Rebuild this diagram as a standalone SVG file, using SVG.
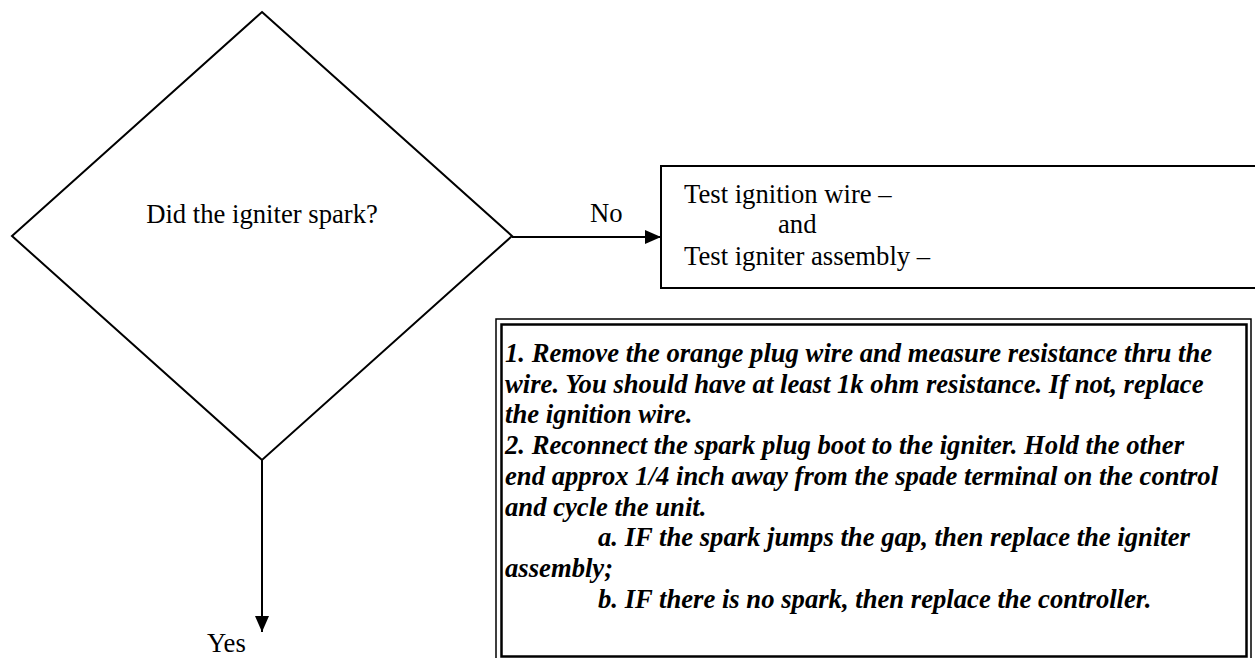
<svg xmlns="http://www.w3.org/2000/svg" width="1255" height="658" viewBox="0 0 1255 658">
<style>
.t{font-family:"Liberation Serif","Times New Roman",serif;font-size:26.67px;fill:#000}
.bi{font-family:"Liberation Serif","Times New Roman",serif;font-size:26.67px;font-weight:bold;font-style:italic;fill:#000}
.s{fill:none;stroke:#000;stroke-width:2}
</style>
<defs>
<marker id="ah" markerWidth="16" markerHeight="14" refX="16" refY="7" orient="auto" markerUnits="userSpaceOnUse">
<path d="M0,0 L16,7 L0,14 Z" fill="#000"/>
</marker>
</defs>
<rect width="1255" height="658" fill="#fff"/>
<g id="decision">
<polygon class="s" points="262,12 512,236 262,460 12,236"/>
<text class="t" x="262" y="223" text-anchor="middle">Did the igniter spark?</text>
</g>
<g id="test-box">
<rect class="s" x="661" y="166" width="610" height="122"/>
<text class="t" x="684" y="203">Test ignition wire –</text>
<text class="t" x="778" y="233">and</text>
<text class="t" x="684" y="265">Test igniter assembly –</text>
</g>
<g id="instructions">
<rect x="496" y="319" width="755" height="345" fill="none" stroke="#000" stroke-width="1.5"/>
<rect x="501.5" y="324.5" width="745" height="332" fill="none" stroke="#000" stroke-width="2.5"/>
<text class="bi" x="505" y="362">1. Remove the orange plug wire and measure resistance thru the</text>
<text class="bi" x="505" y="392.7">wire. You should have at least 1k ohm resistance. If not, replace</text>
<text class="bi" x="505" y="423.4">the ignition wire.</text>
<text class="bi" x="505" y="454">2. Reconnect the spark plug boot to the igniter. Hold the other</text>
<text class="bi" x="505" y="484.8">end approx 1/4 inch away from the spade terminal on the control</text>
<text class="bi" x="505" y="515.5">and cycle the unit.</text>
<text class="bi" x="598" y="546">a. IF the spark jumps the gap, then replace the igniter</text>
<text class="bi" x="505" y="577">assembly;</text>
<text class="bi" x="598" y="607.6">b. IF there is no spark, then replace the controller.</text>
</g>
<g id="connectors">
<line class="s" x1="512" y1="237" x2="661" y2="237" marker-end="url(#ah)"/>
<text class="t" x="590" y="222">No</text>
<line class="s" x1="262" y1="460" x2="262" y2="632" marker-end="url(#ah)"/>
<text class="t" x="207" y="652">Yes</text>
</g>
</svg>
